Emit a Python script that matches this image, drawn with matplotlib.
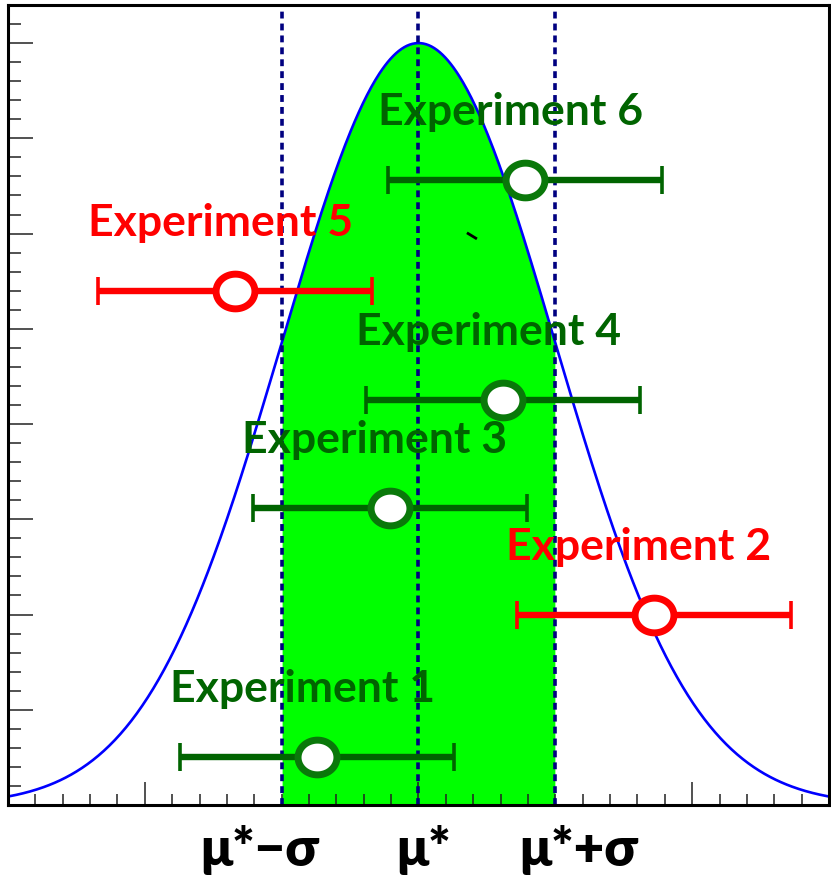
import numpy as np
import matplotlib
matplotlib.use("Agg")
import matplotlib.pyplot as plt
from matplotlib.path import Path
from matplotlib.ticker import MultipleLocator

# Measurements (in units of sigma around mu*) and their vertical slots
exp_names = ["Experiment 1", "Experiment 2", "Experiment 3",
             "Experiment 4", "Experiment 5", "Experiment 6"]
exp_x = [-0.74, 1.72, -0.21, 0.62, -1.34, 0.78]
exp_err = [1.0, 1.0, 1.0, 1.0, 1.0, 1.0]
exp_y = [0.063, 0.249, 0.390, 0.531, 0.675, 0.820]
exp_consistent = [True, False, True, True, False, True]

# Reference lines and the labels written under the axis
ref_x = [-1.0, 0.0, 1.0]
ref_labels = ["μ*−σ", "μ*", "μ*+σ"]
ref_label_x = [-1.164, 0.04, 1.172]

# short stray segment inside the band
stray_x = [0.354, 0.427]
stray_y = [0.751, 0.743]

DARK_GREEN = "#006400"
RING_GREEN = "#0a780a"
RED = "#ff0000"

plt.rcParams["font.family"] = ["Lato", "DejaVu Sans"]

fig = plt.figure(figsize=(8.31, 8.77), dpi=100)
ax = fig.add_axes([0.0096, 0.0821, 0.9880, 0.9122])

# Gaussian curve with the +-1 sigma band filled
x = np.linspace(-3.0, 3.0, 600)
g = np.exp(-0.5 * x ** 2)
band = (x >= ref_x[0]) & (x <= ref_x[2])
ax.fill_between(x[band], 0, g[band], color="#00ff00", lw=0, zorder=1)
ax.plot(x, g, color="#0000ff", lw=1.9, zorder=2)

for rx in ref_x:
    ax.axvline(rx, color="#000080", lw=2.6, ls=(0, (1.9, 1.4)), zorder=3)

ax.plot(stray_x, stray_y, color="black", lw=2.0, zorder=3,
        solid_capstyle="butt")

# Elliptical open marker
t = np.linspace(0, 2 * np.pi, 65)
ellipse = Path(np.column_stack([1.12 * np.cos(t), np.sin(t)]), closed=True)

for name, xv, ev, yv, ok in zip(exp_names, exp_x, exp_err, exp_y, exp_consistent):
    bar_c = DARK_GREEN if ok else RED
    ring_c = RING_GREEN if ok else RED
    ax.errorbar(xv, yv, xerr=ev, fmt="none", ecolor=bar_c, elinewidth=4.6,
                capsize=9.8, capthick=2.6, zorder=4)
    ax.plot(xv, yv, marker=ellipse, ms=28, mfc="white", mec=ring_c,
            mew=5.0, ls="none", zorder=5)
    ax.annotate(name, (xv, yv), xytext=(-10.8, 39.6),
                textcoords="offset points", ha="center", va="baseline",
                fontsize=32, fontweight="bold",
                color=DARK_GREEN if ok else RED, zorder=6)

ax.set_xlim(-3.0, 3.0)
ax.set_ylim(0.0, 1.05)

ax.xaxis.set_major_locator(MultipleLocator(2.0))
ax.xaxis.set_minor_locator(MultipleLocator(0.2))
ax.yaxis.set_major_locator(MultipleLocator(0.125))
ax.yaxis.set_minor_locator(MultipleLocator(0.025))
ax.tick_params(which="both", direction="in", top=False, right=False,
               labelbottom=False, labelleft=False, width=1.1, color="#222222")
ax.tick_params(axis="y", which="major", length=18)
ax.tick_params(axis="y", which="minor", length=9.5)
ax.tick_params(axis="x", which="major", length=16.5)
ax.tick_params(axis="x", which="minor", length=8)

for sp in ax.spines.values():
    sp.set_linewidth(2.2)
    sp.set_zorder(7)

for lx, lab in zip(ref_label_x, ref_labels):
    ax.text(lx, -0.025, lab, transform=ax.get_xaxis_transform(),
            ha="center", va="top", fontsize=38, fontweight="heavy",
            color="black")

fig.savefig("out.png", dpi=100)
